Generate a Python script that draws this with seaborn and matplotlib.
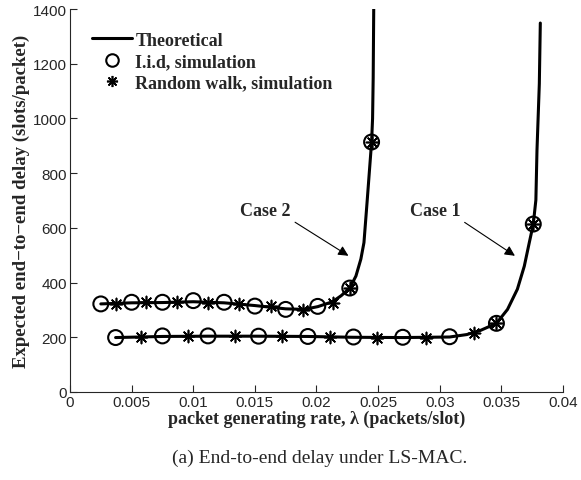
import seaborn as sns
import matplotlib.pyplot as plt
from matplotlib.lines import Line2D

# theoretical curves
case2_x = [0.0025, 0.005, 0.0075, 0.01, 0.0125, 0.015, 0.0175, 0.019, 0.0201, 0.0213,
           0.022, 0.0227, 0.0232, 0.0236, 0.02385, 0.0241, 0.0243, 0.02447, 0.02455,
           0.0246, 0.02466]
case2_y = [322, 326, 327, 330, 326, 316, 304, 302, 312, 330,
           352, 380, 424, 486, 546, 692, 812, 914, 1000,
           1150, 1500]
case1_x = [0.0037, 0.0075, 0.0112, 0.015, 0.0193, 0.023, 0.027, 0.0308, 0.0322, 0.0333,
           0.0346, 0.0355, 0.0363, 0.03686, 0.03726, 0.03759, 0.0378, 0.03789, 0.03808,
           0.03816]
case1_y = [199, 203, 204, 204, 203, 200, 199, 201, 210, 225,
           251, 302, 376, 460, 545, 614, 702, 884, 1127,
           1349]

# I.i.d simulation points (circles)
iid_x = [0.0025, 0.005, 0.0075, 0.01, 0.0125, 0.015, 0.0175, 0.0201, 0.0227, 0.02447,
         0.0037, 0.0075, 0.0112, 0.0153, 0.0193, 0.023, 0.027, 0.0308, 0.0346, 0.03759]
iid_y = [322, 328, 328, 334, 328, 314, 302, 313, 380, 914,
         199, 205, 205, 204, 203, 201, 200, 202, 251, 614]

# random walk simulation points (asterisks)
rw_x = [0.0037, 0.0062, 0.0087, 0.0112, 0.0137, 0.0163, 0.0189, 0.0213, 0.0227, 0.02447,
        0.0058, 0.0096, 0.0134, 0.0172, 0.0211, 0.0249, 0.0289, 0.0328, 0.0346, 0.03759]
rw_y = [321, 328, 328, 324, 320, 313, 299, 327, 380, 914,
        200, 204, 204, 203, 202, 199, 199, 217, 251, 614]

sns.set_style("ticks")
plt.rcParams["font.family"] = ["Liberation Sans", "DejaVu Sans"]
serif = ["Liberation Serif", "DejaVu Serif"]

fig = plt.figure(figsize=(5.81, 4.81), dpi=100)
ax = fig.add_axes([0.1205, 0.183, 0.8485, 0.796])

sns.lineplot(x=case2_x, y=case2_y, ax=ax, color="k", lw=2.2, sort=False, estimator=None)
sns.lineplot(x=case1_x, y=case1_y, ax=ax, color="k", lw=2.2, sort=False, estimator=None)
sns.scatterplot(x=iid_x, y=iid_y, ax=ax, marker="o", s=115, facecolors="none",
                edgecolor="k", linewidth=1.5, zorder=3)
sns.scatterplot(x=rw_x, y=rw_y, ax=ax, marker=(8, 2, 0), s=75, color="k",
                edgecolor="k", linewidth=1.2, zorder=3)

ax.set_xlim(0, 0.04)
ax.set_ylim(0, 1400)
ax.set_xticks([0, 0.005, 0.01, 0.015, 0.02, 0.025, 0.03, 0.035, 0.04])
ax.set_xticklabels(["0", "0.005", "0.01", "0.015", "0.02", "0.025", "0.03", "0.035", "0.04"])
ax.set_yticks(range(0, 1401, 200))
ax.tick_params(direction="in", length=5, labelsize=11, width=0.8, pad=2)
sns.despine(ax=ax)
for s in ["left", "bottom"]:
    ax.spines[s].set_linewidth(0.8)

ax.set_xlabel("packet generating rate, λ (packets/slot)", family=serif,
              fontweight="bold", fontsize=13, labelpad=1)
ax.set_ylabel("Expected end−to−end delay (slots/packet)", family=serif,
              fontweight="bold", fontsize=13.5, labelpad=2)

arrow = dict(arrowstyle="-|>", color="k", lw=0.8, mutation_scale=15,
             shrinkA=1, shrinkB=0, relpos=(1.0, 0.0))
ax.annotate("Case 2", xy=(0.02259, 498), xytext=(0.0179, 662), family=serif,
            fontweight="bold", fontsize=13, ha="right", va="center", arrowprops=arrow)
ax.annotate("Case 1", xy=(0.0361, 498), xytext=(0.03166, 662), family=serif,
            fontweight="bold", fontsize=13, ha="right", va="center", arrowprops=arrow)

handles = [
    Line2D([], [], color="k", lw=2.2),
    Line2D([], [], ls="", marker="o", ms=9, mfc="none", mec="k", mew=1.5),
    Line2D([], [], ls="", marker=(8, 2, 0), ms=8, color="k", mew=1.2),
]
labels = ["Theoretical", "I.i.d, simulation", "Random walk, simulation"]
ax.legend(handles, labels, loc="upper left", bbox_to_anchor=(0.03, 0.96), frameon=False,
          prop={"family": serif, "weight": "bold", "size": 13}, handlelength=2.2,
          handletextpad=0.2, labelspacing=0.25, borderaxespad=0)

fig.text(0.55, 0.047, "(a) End-to-end delay under LS-MAC.", family=serif, fontsize=14,
         ha="center", va="center")

fig.savefig("out.png", dpi=100)
